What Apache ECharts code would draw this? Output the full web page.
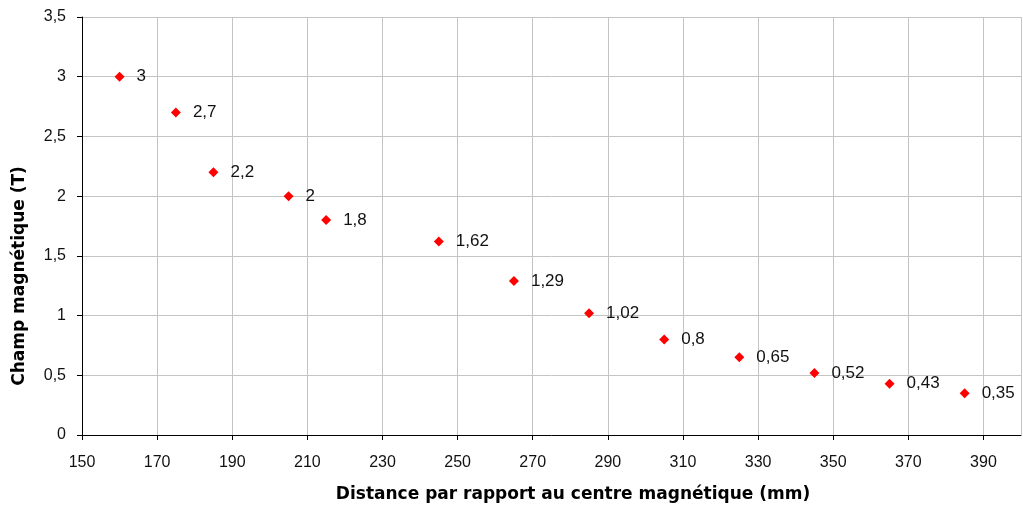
<!DOCTYPE html>
<html>
<head>
<meta charset="utf-8">
<script src="https://cdn.jsdelivr.net/npm/echarts@6/dist/echarts.min.js"></script>
<style>
  html, body { margin: 0; padding: 0; background: #fff; }
  #chart { width: 1023px; height: 506px; }
</style>
</head>
<body>
<div id="chart"></div>
<script>
// distance (mm) and field (T)
var distances = [160, 175, 185, 205, 215, 245, 265, 285, 305, 325, 345, 365, 385]
var champ = [3, 2.7, 2.2, 2, 1.8, 1.62, 1.29, 1.02, 0.8, 0.65, 0.52, 0.43, 0.35]

var xTitle = 'Distance par rapport au centre magnétique (mm)'
var yTitle = 'Champ magnétique (T)'

function virgule(v) {
  return String(v).replace('.', ',')
}

var points = distances.map(function (d, i) { return [d, champ[i]] })

var titleStyle = { fontFamily: 'DejaVu Sans', fontWeight: 'bold', fontSize: 17, fill: '#000' }

var chart = echarts.init(document.getElementById('chart'))
var option = {
  animation: false,
  grid: { left: 82, right: 2, top: 17, bottom: 71 },
  // titres des axes (pas centrés sur la zone de tracé dans l'original)
  graphic: [{
    type: 'text',
    x: 573,
    y: 495,
    style: Object.assign({ text: xTitle, align: 'center', verticalAlign: 'middle' }, titleStyle)
  }, {
    type: 'text',
    x: 20,
    y: 276,
    rotation: Math.PI / 2,
    style: Object.assign({ text: yTitle, align: 'center', verticalAlign: 'middle' }, titleStyle)
  }],
  xAxis: {
    type: 'value',
    min: 150,
    max: 400,
    interval: 20,
    axisLine: { show: true, lineStyle: { color: '#000', width: 1 } },
    axisTick: { show: true, inside: false, length: 5, lineStyle: { color: '#000' } },
    axisLabel: {
      showMaxLabel: false,
      margin: 20,
      fontFamily: 'Liberation Sans',
      fontSize: 16,
      color: '#111'
    },
    splitLine: { show: true, lineStyle: { color: '#c4c4c4', width: 1 } }
  },
  yAxis: {
    type: 'value',
    min: 0,
    max: 3.5,
    interval: 0.5,
    axisLine: { show: true, lineStyle: { color: '#000', width: 1 } },
    axisTick: { show: true, inside: false, length: 5, lineStyle: { color: '#000' } },
    axisLabel: {
      margin: 16,
      fontFamily: 'Liberation Sans',
      fontSize: 16,
      color: '#111',
      formatter: function (v) { return virgule(v) }
    },
    splitLine: { show: true, lineStyle: { color: '#c4c4c4', width: 1 } }
  },
  series: [{
    type: 'scatter',
    data: points,
    symbol: 'diamond',
    symbolSize: 10,
    itemStyle: { color: '#ff0000', opacity: 1 },
    label: {
      show: true,
      position: 'right',
      distance: 12,
      fontFamily: 'Liberation Sans',
      fontSize: 17,
      color: '#111',
      formatter: function (p) { return virgule(p.value[1]) }
    }
  }]
}
chart.setOption(option)
</script>
</body>
</html>
